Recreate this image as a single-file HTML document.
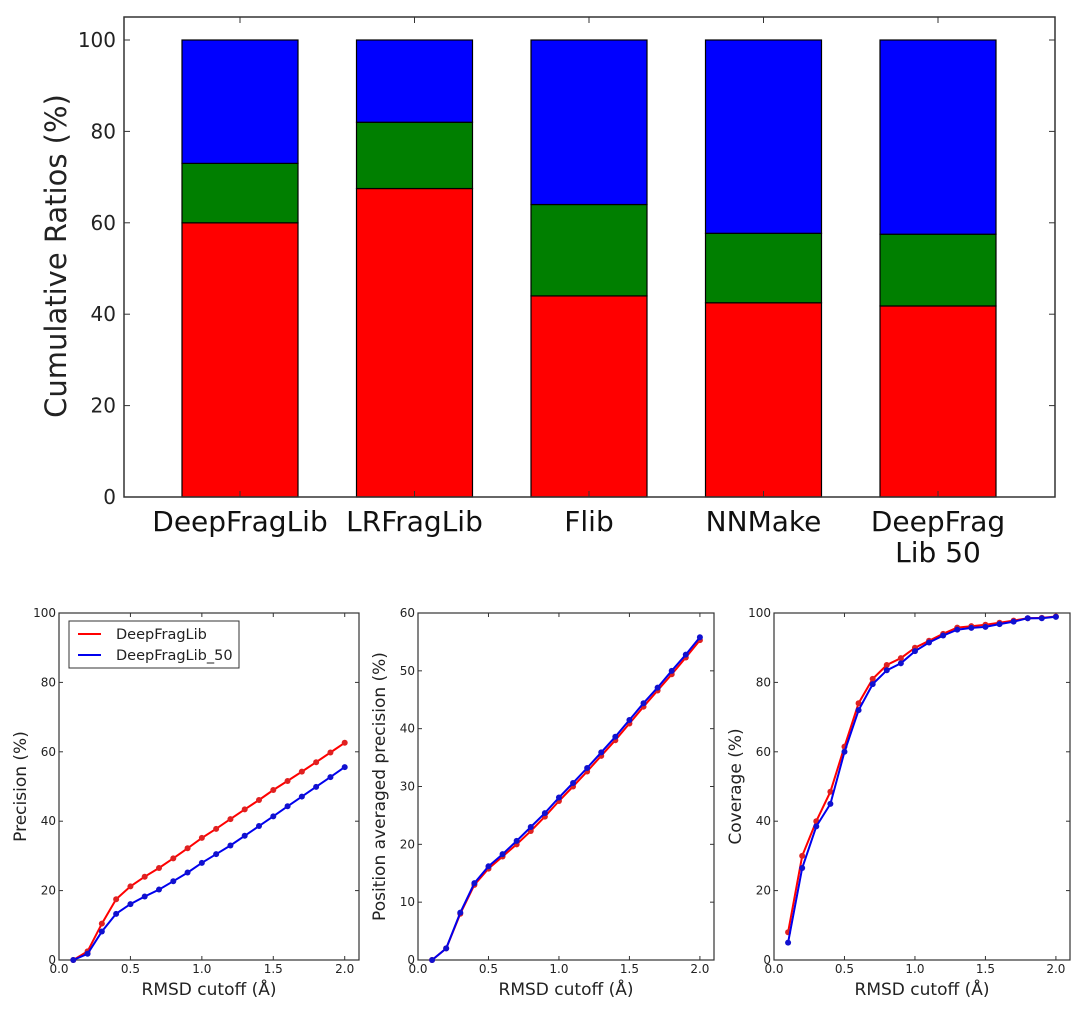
<!DOCTYPE html>
<html><head><meta charset="utf-8"><style>
body{margin:0;background:#fff;}
svg{display:block;font-family:"DejaVu Sans","Liberation Sans",sans-serif;}
</style></head><body>
<svg id="chart" width="1080" height="1015" viewBox="0 0 1080 1015"></svg>
<script>
const categories=["DeepFragLib","LRFragLib","Flib","NNMake","DeepFragLib 50"];
const redVals=[60,67.5,44,42.5,41.8];
const greenTops=[73,82,64,57.7,57.5];
const blueTops=[100,100,100,100,100];
const barTicks=[0,20,40,60,80,100];

const xs=[0.1,0.2,0.3,0.4,0.5,0.6,0.7,0.8,0.9,1.0,1.1,1.2,1.3,1.4,1.5,1.6,1.7,1.8,1.9,2.0];
const precRed=[0,2.5,10.5,17.5,21.2,24,26.5,29.3,32.2,35.2,37.8,40.6,43.4,46.1,49,51.6,54.3,57,59.8,62.6];
const precBlue=[0,1.8,8.2,13.3,16.1,18.3,20.3,22.7,25.2,28,30.5,33,35.8,38.6,41.4,44.3,47.1,49.9,52.7,55.6];
const papRed=[0,2,8,13,15.8,17.9,20,22.3,24.8,27.5,30,32.6,35.3,38,40.9,43.8,46.6,49.4,52.3,55.3];
const papBlue=[0,2,8.2,13.3,16.2,18.3,20.6,23,25.4,28.1,30.6,33.2,35.9,38.6,41.5,44.4,47.1,50,52.8,55.8];
const covRed=[8,30,40,48.5,61.5,74,81,85,87,90,92,94,95.8,96.2,96.6,97.2,97.8,98.5,98.6,99];
const covBlue=[5,26.5,38.5,45,60,72,79.5,83.5,85.5,89,91.5,93.5,95.2,95.7,96,96.8,97.5,98.5,98.5,98.9];
const xTicks=[0.0,0.5,1.0,1.5,2.0];
const xTickLabels=["0.0","0.5","1.0","1.5","2.0"];

const NS="http://www.w3.org/2000/svg";
const svgRoot=document.getElementById('chart');
function mk(tag,attrs,parent){const e=document.createElementNS(NS,tag);for(const k in attrs)e.setAttribute(k,attrs[k]);(parent||svgRoot).appendChild(e);return e;}
function txt(s,attrs,parent){const e=mk('text',attrs,parent);e.textContent=s;return e;}

// ---- Top stacked bar chart ----
const T={l:124,r:1055,t:17,b:497};
const ty=v=>T.b-(v/100)*(T.b-40);
const slot=174.5, bw=116, x0=240;
const tx=i=>x0+i*slot;
const topG=mk('g',{});


categories.forEach((c,i)=>{
  const segs=[[0,redVals[i],'#ff0000','red'],[redVals[i],greenTops[i],'#007f00','green'],[greenTops[i],blueTops[i],'#0000ff','blue']];
  segs.forEach(s=>{
    const r=mk('rect',{x:tx(i)-bw/2,y:ty(s[1]),width:bw,height:ty(s[0])-ty(s[1]),fill:s[2],stroke:'#000','stroke-width':1.2},topG);
    
    
  });
  mk('line',{x1:tx(i),x2:tx(i),y1:T.b,y2:T.b-6,stroke:'#333'},topG);
  mk('line',{x1:tx(i),x2:tx(i),y1:T.t,y2:T.t+6,stroke:'#333'},topG);
});
mk('rect',{x:T.l,y:T.t,width:T.r-T.l,height:T.b-T.t,fill:'none',stroke:'#333','stroke-width':1.5},topG);
barTicks.forEach(v=>{
  mk('line',{x1:T.l,x2:T.l+6,y1:ty(v),y2:ty(v),stroke:'#333'},topG);
  mk('line',{x1:T.r,x2:T.r-6,y1:ty(v),y2:ty(v),stroke:'#333'},topG);
  const t=txt(String(v),{x:T.l-8,y:ty(v)+7,'font-size':20,'text-anchor':'end',fill:'#222'},topG);
  
  
});
const catLines=[["DeepFragLib"],["LRFragLib"],["Flib"],["NNMake"],["DeepFrag","Lib_50"]];
catLines.forEach((ls,i)=>{
  ls.forEach((s,j)=>{
    const t=txt(s.replace('_','\u00a0'),{x:tx(i),y:531+j*31,'font-size':28,'text-anchor':'middle',fill:'#111'},topG);
    
    
  });
});
const yl=txt('Cumulative Ratios (%)',{x:0,y:0,'font-size':29,'text-anchor':'middle',fill:'#222',transform:'translate(66,256) rotate(-90)'},topG);



// ---- Line panels ----
function panel(name,box,ymax,yTicks,ylabel,red,blue,legend){
  const g=mk('g',{});
  
  
  const px=v=>box.l+(v/2.1)*(box.r-box.l);
  const py=v=>box.b-(v/ymax)*(box.b-box.t);
  mk('rect',{x:box.l,y:box.t,width:box.r-box.l,height:box.b-box.t,fill:'#fff',stroke:'#333','stroke-width':1.2},g);
  yTicks.forEach(v=>{
    mk('line',{x1:box.l,x2:box.l+4,y1:py(v),y2:py(v),stroke:'#333'},g);
    mk('line',{x1:box.r,x2:box.r-4,y1:py(v),y2:py(v),stroke:'#333'},g);
    const t=txt(String(v),{x:box.l-3,y:py(v)+4,'font-size':12,'text-anchor':'end',fill:'#222'},g);
    
    
  });
  xTicks.forEach((v,i)=>{
    mk('line',{x1:px(v),x2:px(v),y1:box.b,y2:box.b-4,stroke:'#333'},g);
    mk('line',{x1:px(v),x2:px(v),y1:box.t,y2:box.t+4,stroke:'#333'},g);
    const t=txt(xTickLabels[i],{x:px(v),y:box.b+13,'font-size':12,'text-anchor':'middle',fill:'#222'},g);
    
    
  });
  [[red,'#ff0000','#e02020','red'],[blue,'#0000ee','#1010d0','blue']].forEach(s=>{
    const d=s[0].map((v,i)=>(i?'L':'M')+px(xs[i]).toFixed(1)+','+py(v).toFixed(1)).join(' ');
    const p=mk('path',{d:d,fill:'none',stroke:s[1],'stroke-width':2},g);
    
    
    s[0].forEach((v,i)=>{
      const c=mk('circle',{cx:px(xs[i]),cy:py(v),r:3,fill:s[2]},g);
      
      
    });
  });
  const xl=txt('RMSD cutoff (Å)',{x:(box.l+box.r)/2,y:box.b+35,'font-size':17,'text-anchor':'middle',fill:'#222'},g);
  
  
  const yt=txt(ylabel,{x:0,y:0,'font-size':17,'text-anchor':'middle',fill:'#222',transform:'translate('+(box.l-33)+','+((box.t+box.b)/2)+') rotate(-90)'},g);
  
  
  if(legend){
    const lg=mk('g',{},g);
    
    
    mk('rect',{x:box.l+10,y:box.t+8,width:170,height:47,fill:'#fff',stroke:'#333','stroke-width':1},lg);
    [['DeepFragLib','#ff0000',box.t+25],['DeepFragLib_50','#0000ee',box.t+46]].forEach(e=>{
      mk('line',{x1:box.l+19,x2:box.l+42,y1:e[2]-4,y2:e[2]-4,stroke:e[1],'stroke-width':2},lg);
      const t=txt(e[0],{x:box.l+57,y:e[2]+1,'font-size':14.5,fill:'#222'},lg);
      
      
    });
  }
}
panel('precision-panel',{l:59,r:359,t:613,b:960},100,[0,20,40,60,80,100],'Precision (%)',precRed,precBlue,true);
panel('position-averaged-precision-panel',{l:418,r:714,t:613,b:960},60,[0,10,20,30,40,50,60],'Position averaged precision (%)',papRed,papBlue,false);
panel('coverage-panel',{l:774,r:1070,t:613,b:960},100,[0,20,40,60,80,100],'Coverage (%)',covRed,covBlue,false);
</script>
</body></html>
